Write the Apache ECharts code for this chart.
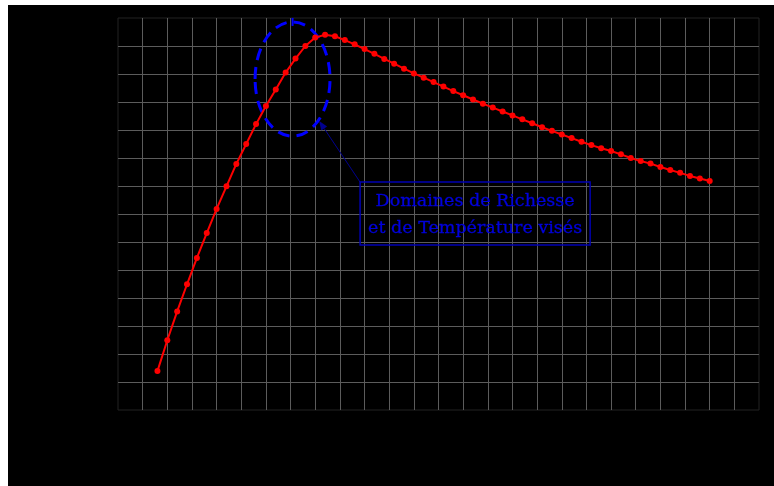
<!DOCTYPE html>
<html><head><meta charset="utf-8">
<script src="https://cdn.jsdelivr.net/npm/echarts@6/dist/echarts.min.js"></script>
<style>
html,body{margin:0;padding:0;background:#fff;width:774px;height:486px;overflow:hidden}
#c{position:absolute;left:8px;top:5px;width:766px;height:481px}
</style>
</head><body><div id="c"></div>
<script>
// Data (richesse vs température)
const richesse = [0.36,0.40,0.44,0.48,0.52,0.56,0.60,0.64,0.68,0.72,0.76,0.80,0.84,0.88,0.92,0.96,1.00,1.04,1.08,1.12,1.16,1.20,1.24,1.28,1.32,1.36,1.40,1.44,1.48,1.52,1.56,1.60,1.64,1.68,1.72,1.76,1.80,1.84,1.88,1.92,1.96,2.00,2.04,2.08,2.12,2.16,2.20,2.24,2.28,2.32,2.36,2.40,2.44,2.48,2.52,2.56,2.60];
const temperature = [939,1049,1152,1249,1343,1432,1518,1599,1679,1750,1821,1886,1945,2005,2055,2100,2130,2140,2135,2121,2106,2089,2072,2054,2037,2019,2002,1987,1971,1955,1939,1924,1909,1894,1880,1866,1852,1838,1824,1810,1797,1784,1771,1758,1746,1735,1725,1713,1700,1689,1680,1668,1657,1647,1636,1627,1618];
const annotationText = ['Domaines de Richesse', 'et de Température visés'];
// annotation anchors in data units
const ellipseCenter = [0.908, 1982];
const ellipseRadius = [0.152, 204];
const arrowTip = [1.016, 1832];
const boxTopLeft = [1.182, 1614];
const boxBottomRight = [2.115, 1389];

const chart = echarts.init(document.getElementById('c'), null, {renderer:'canvas'});
const gridColor = '#5c5c5c';
chart.setOption({
  animation: false,
  backgroundColor: '#000',
  grid: {left: 110, top: 13, width: 641, height: 392, show: true, borderColor: '#222', borderWidth: 1, backgroundColor: 'transparent'},
  xAxis: {type: 'value', min: 0.2, max: 2.8, interval: 0.1,
    axisLabel: {show: false}, axisTick: {show: false}, axisLine: {show: false},
    splitLine: {show: true, showMinLine: false, showMaxLine: false, lineStyle: {color: gridColor, width: 1}}},
  yAxis: {type: 'value', min: 800, max: 2200, interval: 100,
    axisLabel: {show: false}, axisTick: {show: false}, axisLine: {show: false},
    splitLine: {show: true, showMinLine: false, showMaxLine: false, lineStyle: {color: gridColor, width: 1}}},
  series: [{
    type: 'line', z: 5,
    data: richesse.map((x, i) => [x, temperature[i]]),
    symbol: 'circle', symbolSize: 6,
    lineStyle: {color: '#ff0000', width: 2},
    itemStyle: {color: '#ff0000'}
  }]
});

const p = v => chart.convertToPixel({gridIndex: 0}, v);
const c = p(ellipseCenter);
const e1 = p([ellipseCenter[0] + ellipseRadius[0], ellipseCenter[1] + ellipseRadius[1]]);
const rx = e1[0] - c[0], ry = c[1] - e1[1];
const tip = p(arrowTip), start = p(boxTopLeft), br = p(boxBottomRight);
const ang = Math.atan2(tip[1] - start[1], tip[0] - start[0]);
const L = 9, W = 3.5;
const bx = tip[0] - L * Math.cos(ang), by = tip[1] - L * Math.sin(ang);
const head = [tip, [bx + W * Math.sin(ang), by - W * Math.cos(ang)], [bx - W * Math.sin(ang), by + W * Math.cos(ang)]];

chart.setOption({
  graphic: [
    {type: 'ellipse', z: 1, shape: {cx: c[0], cy: c[1], rx: rx, ry: ry},
      style: {fill: 'none', stroke: '#0000ff', lineWidth: 3, lineDash: [12, 7]}},
    {type: 'line', z: 1, shape: {x1: c[0], y1: c[1] - ry - 4, x2: c[0], y2: c[1] - ry + 4},
      style: {stroke: '#0000ff', lineWidth: 2}},
    {type: 'line', z: 6, shape: {x1: start[0], y1: start[1], x2: bx, y2: by},
      style: {stroke: '#000090', lineWidth: 1}},
    {type: 'polygon', z: 6, shape: {points: head}, style: {fill: '#000090'}},
    {type: 'rect', z: 6, shape: {x: start[0], y: start[1], width: br[0] - start[0], height: br[1] - start[1]},
      style: {fill: 'none', stroke: '#0000b4', lineWidth: 1.5}},
    {type: 'text', z: 7, x: (start[0] + br[0]) / 2, y: (start[1] + br[1]) / 2 + 1,
      style: {text: annotationText.join('\n'), fontFamily: '"DejaVu Serif"', fontSize: 17.5, lineHeight: 27,
        fill: '#0000dc', stroke: '#0000dc', lineWidth: 0.3, align: 'center', verticalAlign: 'middle'}}
  ]
});
</script>
</body></html>
